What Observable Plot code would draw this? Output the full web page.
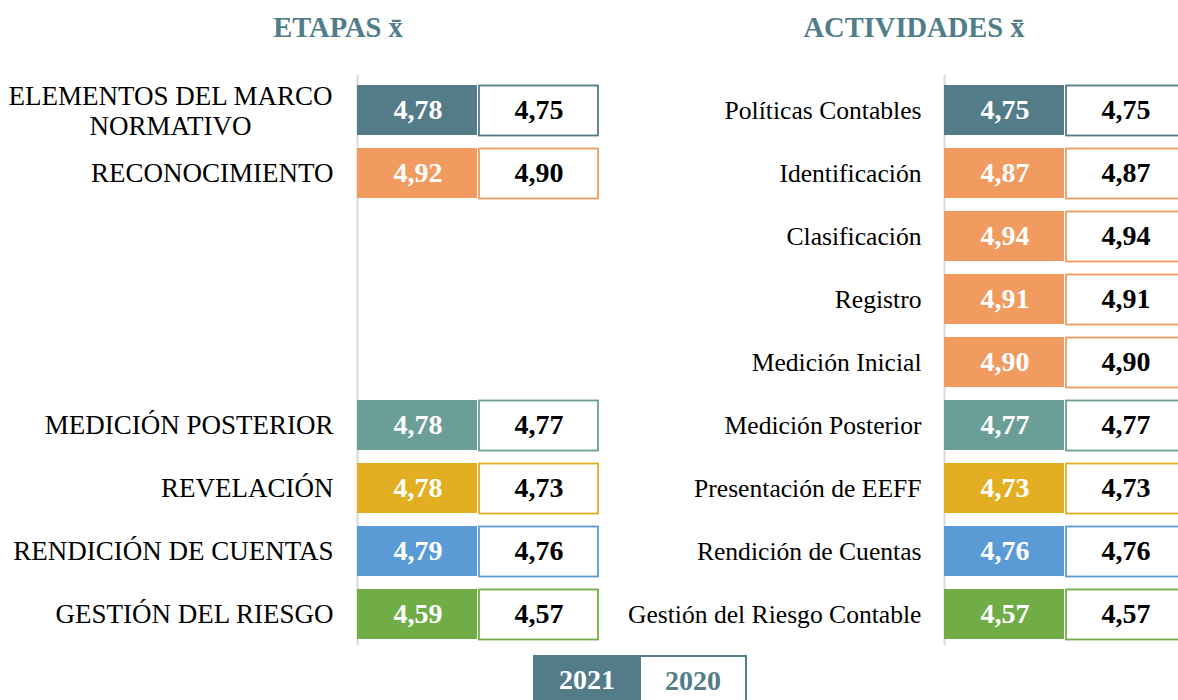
<!DOCTYPE html>
<html>
<head>
<meta charset="utf-8">
<script src="https://cdn.jsdelivr.net/npm/d3@7"></script>
<script src="https://cdn.jsdelivr.net/npm/@observablehq/plot@0.6"></script>
<style>
  html, body { margin: 0; padding: 0; background: #fff; overflow: hidden; }
  #wrap { position: relative; width: 1178px; height: 700px; font-family: "Liberation Serif", "Times New Roman", serif; }
  .title { position: absolute; top: 10px; font-weight: bold; font-size: 28.5px; color: #4F7D89; transform: translateX(-50%); white-space: nowrap; line-height: 36px; }
  .panel { position: absolute; top: 58px; }
  .legend { position: absolute; top: 655px; height: 50px; display: flex; font-weight: bold; font-size: 28px; }
  .legend div { width: 106px; display: flex; align-items: center; justify-content: center; box-sizing: border-box; }
  .lg2021 { background: #537C88; color: #fff; width: 108px !important; }
  .lg2020 { background: #fff; color: #537C88; border: 2px solid #537C88; border-left: none; border-bottom: none; }
</style>
</head>
<body>
<div id="wrap">
  <div class="title" style="left:338px">ETAPAS x̄</div>
  <div class="title" style="left:914px">ACTIVIDADES x̄</div>
  <div class="panel" id="left" style="left:0px"></div>
  <div class="panel" id="right" style="left:600px"></div>
  <div class="legend" style="left:533px"><div class="lg2021">2021</div><div class="lg2020">2020</div></div>
</div>
<script>
// ---- Data ----
const years = ["2021", "2020"];

const actividades = ["Políticas Contables", "Identificación", "Clasificación", "Registro", "Medición Inicial",
  "Medición Posterior", "Presentación de EEFF", "Rendición de Cuentas", "Gestión del Riesgo Contable"];
const act2021 = [4.75, 4.87, 4.94, 4.91, 4.90, 4.77, 4.73, 4.76, 4.57];
const act2020 = [4.75, 4.87, 4.94, 4.91, 4.90, 4.77, 4.73, 4.76, 4.57];
const actColors = ["#537C88", "#F19B60", "#F19B60", "#F19B60", "#F19B60", "#6A9E97", "#E2AF22", "#5B9BD5", "#70AD47"];

const etapas = ["ELEMENTOS DEL MARCO\nNORMATIVO", "RECONOCIMIENTO", "MEDICIÓN POSTERIOR", "REVELACIÓN", "RENDICIÓN DE CUENTAS", "GESTIÓN DEL RIESGO"];
// row (activity line) each stage is drawn on
const etapaRow = ["Políticas Contables", "Identificación", "Medición Posterior", "Presentación de EEFF", "Rendición de Cuentas", "Gestión del Riesgo Contable"];
const etapa2021 = [4.78, 4.92, 4.78, 4.78, 4.79, 4.59];
const etapa2020 = [4.75, 4.90, 4.77, 4.73, 4.76, 4.57];
const etapaColors = ["#537C88", "#F19B60", "#6A9E97", "#E2AF22", "#5B9BD5", "#70AD47"];

const fmt = v => v.toFixed(2).replace(".", ",");
const FONT = "Liberation Serif";

function panel({labels, rows, v2021, v2020, colors, width, marginLeft, marginRight, xMax, labelSize, labelDx}) {
  const table = [];
  rows.forEach((r, i) => {
    table.push({row: r, year: "2021", col: years.indexOf("2021"), value: v2021[i], color: colors[i], label: labels[i]});
    table.push({row: r, year: "2020", col: years.indexOf("2020"), value: v2020[i], color: colors[i], label: labels[i]});
  });
  const t21 = table.filter(d => d.year === "2021");
  const t20 = table.filter(d => d.year === "2020");
  const single = t21.filter(d => !d.label.includes("\n"));
  const multi = t21.filter(d => d.label.includes("\n"));
  return Plot.plot({
    width, height: 590,
    marginLeft, marginRight, marginTop: 17, marginBottom: 3,
    style: {fontFamily: FONT, background: "transparent", overflow: "hidden"},
    x: {domain: [0, xMax], axis: null},
    y: {type: "band", domain: actividades, paddingInner: 0.2, paddingOuter: 0.119, align: 0.667, axis: null},
    color: {type: "identity"},
    marks: [
      Plot.ruleX([0], {stroke: "#D9D9D9", strokeWidth: 2}),
      Plot.barX(t21, {x1: d => d.col, x2: d => d.col + 1, y: "row", fill: "color", insetRight: 1}),
      Plot.barX(t20, {x1: d => d.col, x2: d => d.col + 1, y: "row", fill: "white", stroke: "color", strokeWidth: 1.8, insetLeft: 1, insetRight: 1, insetTop: 0.5, insetBottom: -0.5}),
      Plot.text(t21, {x: d => d.col + 0.5, y: "row", text: d => fmt(d.value), fill: "white", fontWeight: "bold", fontSize: 28, fontFamily: FONT}),
      Plot.text(t20, {x: d => d.col + 0.5, y: "row", text: d => fmt(d.value), fill: "black", fontWeight: "bold", fontSize: 28, fontFamily: FONT}),
      Plot.text(single, {x: 0, y: "row", text: "label", textAnchor: "end", dx: labelDx, fill: "black", fontSize: labelSize, fontFamily: FONT}),
      Plot.text(multi, {x: 0, y: "row", text: "label", textAnchor: "middle", lineHeight: 1.12, dx: -187, fill: "black", fontSize: labelSize, fontFamily: FONT})
    ]
  });
}

document.getElementById("left").append(panel({
  labels: etapas, rows: etapaRow, v2021: etapa2021, v2020: etapa2020, colors: etapaColors,
  width: 600, marginLeft: 357, marginRight: 1, xMax: 2, labelSize: 27, labelDx: -24
}));
document.getElementById("right").append(panel({
  labels: actividades, rows: actividades, v2021: act2021, v2020: act2020, colors: actColors,
  width: 578, marginLeft: 344, marginRight: 0, xMax: 234 / 121, labelSize: 25.6, labelDx: -23
}));
</script>
</body>
</html>
